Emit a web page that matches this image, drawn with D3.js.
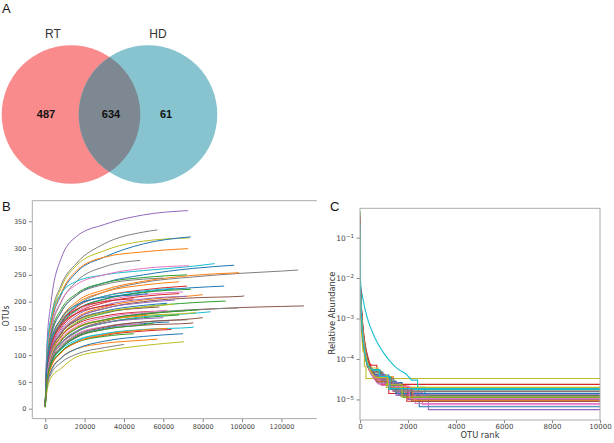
<!DOCTYPE html>
<html>
<head>
<meta charset="utf-8">
<script src="https://cdn.jsdelivr.net/npm/d3@7"></script>
<style>
  body { margin: 0; background: #fff; }
  svg { display: block; }
</style>
</head>
<body>
<svg id="chart" width="614" height="443"></svg>
<script>
// ---------- data ----------
// A: venn
var vennSets = ["RT", "HD"];
var vennCounts = [487, 634, 61]; // RT only, shared, HD only
var vennColors = ["#f98b8d", "#87c4cf", "#7e8893"];

// B: rarefaction curves (OTUs read at these depths, last value = at curve end)
var depths = [0, 800, 3000, 8000, 16000, 30000, 50000, 75000, 100000, 120000];
var rareEnd = [72600, 57000, 73400, 73900, 72600, 48300, 86100, 96000, 128500, 98500,
  73000, 72000, 90900, 101100, 91700, 131400, 97700, 84000, 76500, 75600,
  75100, 72300, 64100, 57000, 70500, 72000, 74000, 68000, 68000, 70000,
  62000, 80000, 60000, 66000, 68000, 55000, 63000, 60000, 50000, 45000,
  42000, 58000, 45000, 52000, 70000, 40000, 65000, 78000, 72000, 66000,
  35000, 80000, 62000, 52000, 62000, 55000];
var rareOtu = [
  [8, 115, 200, 280, 322, 344, 362, 370],
  [6, 95, 170, 230, 272, 308, 330, 334],
  [6, 90, 165, 225, 268, 295, 313, 319],
  [5, 85, 155, 212, 255, 283, 308, 321],
  [6, 88, 160, 215, 258, 283, 293, 299],
  [5, 80, 145, 198, 238, 265, 277],
  [8, 100, 170, 215, 238, 250, 258, 266, 271],
  [6, 80, 135, 180, 212, 235, 250, 262, 268],
  [5, 70, 120, 160, 192, 218, 236, 246, 253, 257, 259],
  [6, 72, 125, 168, 200, 222, 238, 249, 254],
  [6, 85, 150, 200, 232, 250, 262, 267],
  [5, 80, 140, 185, 215, 235, 245, 250],
  [5, 70, 118, 158, 185, 205, 218, 226, 229],
  [5, 62, 105, 140, 168, 187, 200, 207, 210, 211],
  [5, 60, 102, 135, 160, 178, 190, 198, 201],
  [4, 55, 92, 122, 145, 163, 176, 184, 189, 191, 192],
  [4, 58, 95, 126, 150, 166, 178, 185, 188],
  [5, 55, 92, 122, 145, 160, 172, 178, 181],
  [5, 55, 95, 126, 150, 165, 174, 179, 180],
  [4, 48, 80, 106, 126, 140, 148, 152, 153],
  [4, 50, 85, 112, 133, 148, 156, 160, 161],
  [4, 52, 88, 116, 138, 153, 162, 166],
  [4, 48, 80, 105, 124, 137, 145, 148],
  [3, 42, 72, 95, 112, 122, 128, 130],
  [2, 30, 58, 75, 97, 108, 118, 125],
  [6, 70, 120, 160, 190, 210, 222, 229],
  [5, 68, 116, 155, 184, 204, 217, 223],
  [6, 72, 125, 165, 196, 218, 231, 237],
  [5, 66, 112, 150, 178, 198, 210, 215],
  [5, 66, 114, 152, 181, 201, 213, 218],
  [5, 62, 105, 140, 165, 182, 193, 197],
  [5, 62, 105, 142, 170, 190, 203, 211, 213],
  [6, 78, 135, 180, 212, 232, 242, 244],
  [5, 62, 106, 142, 168, 187, 198, 203],
  [4, 52, 90, 120, 143, 160, 170, 175],
  [5, 58, 100, 134, 158, 173, 181, 182],
  [4, 50, 85, 112, 134, 150, 159, 162],
  [4, 54, 92, 122, 145, 160, 168, 170],
  [4, 55, 92, 120, 140, 153, 158],
  [4, 48, 80, 106, 124, 135, 140],
  [4, 50, 84, 110, 128, 140, 145],
  [5, 62, 106, 140, 165, 180, 188, 190],
  [6, 72, 122, 160, 186, 200, 205],
  [5, 58, 98, 128, 152, 166, 174, 175],
  [3, 40, 70, 94, 112, 126, 135, 140],
  [3, 38, 65, 86, 102, 114, 120],
  [5, 60, 102, 136, 162, 180, 190, 195],
  [5, 55, 95, 126, 150, 166, 177, 184, 185],
  [5, 64, 110, 146, 174, 193, 205, 210],
  [6, 72, 122, 162, 192, 210, 220, 225],
  [6, 70, 118, 155, 178, 192, 195],
  [4, 50, 86, 114, 136, 152, 162, 168, 170],
  [5, 58, 98, 130, 154, 170, 180, 184],
  [6, 75, 128, 168, 194, 208, 214, 215],
  [4, 46, 78, 104, 124, 138, 147, 150],
  [4, 50, 85, 112, 134, 148, 157, 160]
];
// index into the tab10 cycle
var rareColor = [4, 7, 8, 0, 1, 7, 9, 0, 7, 1, 6, 2, 0, 5, 2, 5, 7, 9, 8, 9,
  5, 7, 3, 1, 8, 3, 2, 1, 3, 6, 0, 1, 7, 4, 2, 3, 0, 4, 6, 2,
  9, 5, 3, 1, 0, 7, 8, 2, 4, 9, 3, 5, 6, 0, 1, 2];
var xTicksB = [0, 20000, 40000, 60000, 80000, 100000, 120000];
var yTicksB = [0, 50, 100, 150, 200, 250, 300, 350];

// C: rank abundance, [rank, relative abundance] per sample; last 3 points are the rare-OTU steps
var rankCurves = [
  [[0,0.12],[10,8e-3],[40,2.4e-3],[100,7e-4],[200,2.2e-4],[350,9e-5],[620,4e-5],[1150,2.6e-5],[1750,1.35e-5],[2470,6.6e-6]],
  [[0,0.2],[10,1.2e-2],[40,3e-3],[100,6e-4],[200,1.8e-4],[350,7.5e-5],[720,3.6e-5],[1390,1.8e-5],[2430,9e-6]],
  [[0,0.45],[10,1e-2],[40,2e-3],[100,4.5e-4],[200,1.4e-4],[350,6e-5],[650,3.8e-5],[1050,2.5e-5],[1600,1.26e-5]],
  [[0,0.08],[10,6e-3],[40,2e-3],[100,6e-4],[200,2e-4],[330,9e-5],[480,7e-5],[700,4.7e-5],[900,2.36e-5]],
  [[0,0.15],[10,9e-3],[40,2.2e-3],[100,6e-4],[200,1.6e-4],[350,6e-5],[800,2.5e-5],[1500,1.28e-5],[2850,5.6e-6]],
  [[0,0.1],[10,7e-3],[40,2e-3],[100,5.5e-4],[200,1.7e-4],[350,7e-5],[700,3.6e-5],[1200,2.4e-5],[1750,1.2e-5]],
  [[0,0.18],[10,1e-2],[40,2.8e-3],[100,7e-4],[200,2e-4],[350,7e-5],[900,2.2e-5],[1500,1.5e-5],[2600,7.4e-6]],
  [[0,0.3],[10,1.1e-2],[40,2.5e-3],[100,5e-4],[200,1.4e-4],[350,6e-5],[600,4.2e-5],[1000,2.8e-5],[1500,1.4e-5]],
  [[0,0.06],[10,4e-3],[40,1.1e-3],[80,3.5e-4],[130,1.5e-4],[180,6.6e-5],[250,3.3e-5]],
  [[0,0.06],[20,1e-2],[50,5e-3],[97,3.7e-3],[200,1.8e-3],[347,8.5e-4],[480,5.2e-4],[625,3.3e-4],[820,2e-4],[1042,1.26e-4],[1250,8.8e-5],[1458,6.5e-5],[1650,5.3e-5],[1875,4.45e-5],[2150,3e-5],[2400,2e-5],[2700,1.1e-5]],
  [[0,0.25],[10,1.3e-2],[40,3e-3],[100,8e-4],[200,2.4e-4],[350,9e-5],[600,4e-5],[1200,2e-5],[2100,1e-5]],
  [[0,0.09],[10,6e-3],[40,1.6e-3],[100,4e-4],[200,1.3e-4],[350,6e-5],[640,3.4e-5],[1150,2.2e-5],[1900,1.12e-5]],
  [[0,0.22],[10,9e-3],[40,2.2e-3],[100,5e-4],[200,1.5e-4],[330,6.5e-5],[560,5.2e-5],[850,3.5e-5],[1300,1.77e-5]],
  [[0,0.14],[10,1e-2],[40,3.2e-3],[100,9e-4],[200,2.6e-4],[350,1e-4],[700,3.5e-5],[1200,1.4e-5],[1950,9e-6]],
  [[0,0.11],[10,8e-3],[40,2.4e-3],[100,6.5e-4],[200,1.9e-4],[350,7.5e-5],[680,3e-5],[1250,2e-5],[2000,1e-5]],
  [[0,0.07],[10,5e-3],[40,1.5e-3],[100,4.5e-4],[200,1.5e-4],[350,6.5e-5],[600,4.7e-5],[950,3.2e-5],[1400,1.58e-5]],
  [[0,0.16],[10,1.1e-2],[40,3e-3],[100,7.5e-4],[200,2.2e-4],[350,8e-5],[760,2.4e-5],[1350,1.6e-5],[2300,7.95e-6]],
  [[0,0.2],[10,9e-3],[40,2.3e-3],[100,5.5e-4],[200,1.6e-4],[350,6.5e-5],[650,3.6e-5],[1100,2.4e-5],[1700,1.2e-5]],
  [[0,0.1],[10,6e-3],[40,1.6e-3],[100,4.2e-4],[200,1.4e-4],[300,8e-5],[500,6e-5],[750,4e-5],[1100,1.99e-5]],
  [[0,0.28],[10,1.1e-2],[40,2.6e-3],[100,6e-4],[200,1.7e-4],[330,7e-5],[520,5.3e-5],[800,3.5e-5],[1200,1.77e-5]],
  [[0,0.13],[10,8e-3],[40,2.2e-3],[100,5.5e-4],[200,1.7e-4],[350,6.5e-5],[600,4.2e-5],[1000,2.8e-5],[1500,1.41e-5]],
  [[0,0.17],[10,1.05e-2],[40,2.8e-3],[100,7e-4],[200,2.1e-4],[350,8e-5],[740,2.8e-5],[1300,1.9e-5],[2200,9.5e-6]],
  [[0,0.09],[10,7e-3],[40,2e-3],[100,5.5e-4],[200,1.7e-4],[350,6.5e-5],[650,3.4e-5],[1150,2.2e-5],[1800,1.12e-5]],
  [[0,0.35],[10,1.2e-2],[40,2.8e-3],[100,7e-4],[200,2e-4],[350,7.5e-5],[700,3.2e-5],[1200,2.1e-5],[2000,1.05e-5]],
  [[0,0.12],[10,7e-3],[40,1.9e-3],[100,5e-4],[200,1.5e-4],[350,6e-5],[620,3.9e-5],[1050,2.6e-5],[1600,1.3e-5]],
  [[0,0.19],[10,1.1e-2],[40,3e-3],[100,7.5e-4],[200,2.2e-4],[350,8.5e-5],[720,2.7e-5],[1300,1.8e-5],[2150,9e-6]],
  [[0,0.1],[10,7e-3],[40,2e-3],[100,5.5e-4],[200,1.7e-4],[350,6.5e-5],[680,3.2e-5],[1200,2.1e-5],[2050,1.05e-5]],
  [[0,0.08],[10,6e-3],[40,1.7e-3],[100,4.6e-4],[200,1.5e-4],[330,6.5e-5],[580,4.8e-5],[920,3.2e-5],[1400,1.6e-5]],
  [[0,0.14],[10,8e-3],[40,2.2e-3],[100,6e-4],[200,1.8e-4],[350,7e-5],[660,3.5e-5],[1150,2.3e-5],[1750,1.15e-5]],
  [[0,0.21],[10,9e-3],[40,2.2e-3],[100,5e-4],[200,1.5e-4],[330,6.8e-5],[540,5.5e-5],[820,3.7e-5],[1250,1.85e-5]]
];
var rankLim = [0, 10000];
var abundLim = [3.1e-6, 0.53];
var xTicksC = [0, 2000, 4000, 6000, 8000, 10000];
var yTicksC = [1e-1, 1e-2, 1e-3, 1e-4, 1e-5];

// ---------- drawing ----------
var tab10 = d3.schemeCategory10;
var svg = d3.select("#chart");
var letterFont = "'Liberation Sans', Arial, sans-serif";
var axisFont = "'DejaVu Sans', sans-serif";

// panel letters
[["A", 2, 13], ["B", 2, 211], ["C", 330, 211]].forEach(function (p) {
  svg.append("text").attr("x", p[1]).attr("y", p[2])
    .attr("font-family", letterFont).attr("font-size", 13).attr("fill", "#111")
    .text(p[0]);
});

/* #region ---------- A: venn ---------- */
var venn = { cx: [71, 148], cy: 114.5, r: 69.3 };
var gA = svg.append("g");
gA.append("clipPath").attr("id", "clipRT")
  .append("circle").attr("cx", venn.cx[0]).attr("cy", venn.cy).attr("r", venn.r);
gA.selectAll("circle.set")
  .data(vennSets)
  .join("circle")
  .attr("class", "set")
  .attr("cx", function (d, i) { return venn.cx[i]; })
  .attr("cy", venn.cy)
  .attr("r", venn.r)
  .attr("fill", function (d, i) { return vennColors[i]; });
gA.append("circle")
  .attr("clip-path", "url(#clipRT)")
  .attr("cx", venn.cx[1]).attr("cy", venn.cy).attr("r", venn.r)
  .attr("fill", vennColors[2]);
gA.selectAll("text.setname")
  .data(vennSets)
  .join("text")
  .attr("class", "setname")
  .attr("x", function (d, i) { return [53, 158][i]; })
  .attr("y", 38)
  .attr("text-anchor", "middle")
  .attr("font-family", letterFont).attr("font-size", 12).attr("fill", "#333")
  .text(function (d) { return d; });
gA.selectAll("text.count")
  .data(vennCounts)
  .join("text")
  .attr("class", "count")
  .attr("x", function (d, i) { return [46, 111, 166][i]; })
  .attr("y", 117.5)
  .attr("text-anchor", "middle")
  .attr("font-family", letterFont).attr("font-size", 11).attr("font-weight", "bold")
  .attr("fill", "#111")
  .text(function (d) { return d; });
/* #endregion */

/* #region ---------- B: rarefaction ---------- */
var xMaxB = d3.max(rareEnd), yMaxB = d3.max(rareOtu, function (v) { return d3.max(v); });
var xB = d3.scaleLinear().domain([-0.05 * xMaxB, 1.05 * xMaxB]).range([32.3, 316.8]);
var yB = d3.scaleLinear().domain([-0.05 * yMaxB, 1.05 * yMaxB]).range([418.6, 200.7]);
var gB = svg.append("g");

function curvePts(i) {
  var v = rareOtu[i];
  var pts = v.slice(0, -1).map(function (y, j) { return [depths[j], y]; });
  pts.push([rareEnd[i], v[v.length - 1]]);
  return pts;
}
var lineB = d3.line()
  .x(function (d) { return xB(d[0]); })
  .y(function (d) { return yB(d[1]); })
  .curve(d3.curveMonotoneX);

gB.selectAll("path.rare")
  .data(rareOtu.map(function (v, i) { return i; }))
  .join("path")
  .attr("class", "rare")
  .attr("fill", "none")
  .attr("stroke", function (i) { return tab10[rareColor[i]]; })
  .attr("stroke-width", 1)
  .attr("d", function (i) { return lineB(curvePts(i)); });

function styleAxis(g, size) {
  g.selectAll(".domain").remove();
  g.selectAll(".tick line").attr("stroke", "#888");
  g.selectAll(".tick text").attr("fill", "#444").attr("font-size", size).attr("font-family", axisFont);
}
gB.append("g").attr("transform", "translate(0,418.6)")
  .call(d3.axisBottom(xB).tickValues(xTicksB).tickSize(3.5).tickPadding(2).tickFormat(d3.format("d")))
  .call(styleAxis, 6.5);
gB.append("g").attr("transform", "translate(32.3,0)")
  .call(d3.axisLeft(yB).tickValues(yTicksB).tickSize(3.5).tickPadding(2.5))
  .call(styleAxis, 6.5);
// spines: left, top, bottom
gB.append("path")
  .attr("d", "M316.8,200.7H32.3V418.6H316.8")
  .attr("fill", "none").attr("stroke", "#aaa").attr("stroke-width", 1);
gB.append("text")
  .attr("transform", "translate(9,316) rotate(-90)")
  .attr("text-anchor", "middle")
  .attr("font-family", axisFont).attr("font-size", 8).attr("fill", "#333")
  .text("OTUs");
/* #endregion */

/* #region ---------- C: rank abundance ---------- */
var xC = d3.scaleLinear().domain(rankLim).range([360, 600]);
var yC = d3.scaleLog().domain(abundLim).range([420, 208.3]);
var gC = svg.append("g");
gC.append("clipPath").attr("id", "clipC")
  .append("rect").attr("x", 360).attr("y", 208.3).attr("width", 240).attr("height", 211.7);

var headC = d3.line()
  .x(function (d) { return xC(d[0]); })
  .y(function (d) { return yC(d[1]); })
  .curve(d3.curveMonotoneX);
var tailC = d3.line()
  .x(function (d) { return xC(d[0]); })
  .y(function (d) { return yC(d[1]); })
  .curve(d3.curveStepAfter);

var gLines = gC.append("g").attr("clip-path", "url(#clipC)");
rankCurves.forEach(function (d, i) {
  var n = d.length;
  var head = d.slice(0, n - 2);
  var tail = d.slice(n - 3).concat([[rankLim[1], d[n - 1][1]]]);
  gLines.append("path")
    .attr("fill", "none")
    .attr("stroke", tab10[i % 10])
    .attr("stroke-width", 1.1)
    .attr("d", headC(head) + tailC(tail).replace(/^M/, "L"));
});

gC.append("g").attr("transform", "translate(0,420)")
  .call(d3.axisBottom(xC).tickValues(xTicksC).tickSize(3).tickPadding(1).tickFormat(d3.format("d")))
  .call(styleAxis, 7);
var yAxC = gC.append("g").attr("transform", "translate(360,0)")
  .call(d3.axisLeft(yC).tickValues(yTicksC).tickSize(3.5).tickPadding(2.5).tickFormat(function () { return ""; }))
  .call(styleAxis, 7.5);
yAxC.selectAll(".tick text").each(function (d) {
  var t = d3.select(this);
  t.append("tspan").text("10");
  t.append("tspan").attr("dy", "-0.45em").attr("font-size", 5.5)
    .text("\u2212" + Math.round(-Math.log10(d)));
});
gC.append("rect")
  .attr("x", 360).attr("y", 208.3).attr("width", 240).attr("height", 211.7)
  .attr("fill", "none").attr("stroke", "#aaa").attr("stroke-width", 1);
gC.append("text")
  .attr("transform", "translate(335,313) rotate(-90)")
  .attr("text-anchor", "middle")
  .attr("font-family", axisFont).attr("font-size", 8.3).attr("fill", "#333")
  .text("Relative Abundance");
gC.append("text")
  .attr("x", 480).attr("y", 438)
  .attr("text-anchor", "middle")
  .attr("font-family", axisFont).attr("font-size", 8.3).attr("fill", "#333")
  .text("OTU rank");
/* #endregion */
</script>
</body>
</html>
